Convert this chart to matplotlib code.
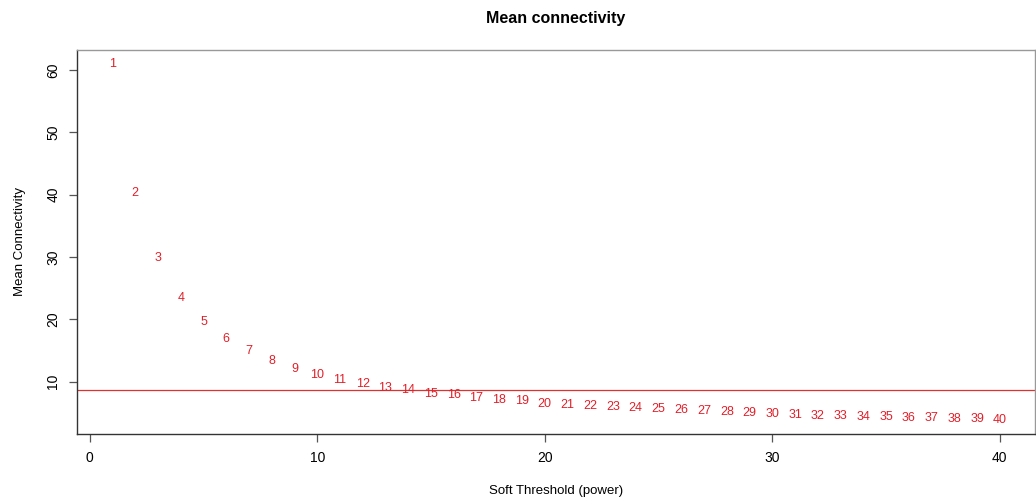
import matplotlib
matplotlib.use("Agg")
import matplotlib.pyplot as plt
import numpy as np

plt.rcParams['font.family'] = ['Liberation Sans', 'DejaVu Sans']

# soft-threshold powers and mean connectivity
powers = np.arange(1, 41)
mean_k = [60.9, 40.2, 29.8, 23.5, 19.6, 16.8, 14.9, 13.3, 12.0, 11.1,
          10.2, 9.7, 9.0, 8.6, 8.1, 7.8, 7.4, 7.1, 6.9, 6.5,
          6.3, 6.1, 5.95, 5.75, 5.6, 5.5, 5.3, 5.15, 4.95, 4.85,
          4.7, 4.55, 4.5, 4.4, 4.35, 4.25, 4.2, 4.1, 4.05, 3.9]
cutoff = 8.7
xticks = [0, 10, 20, 30, 40]
yticks = [10, 20, 30, 40, 50, 60]

fig = plt.figure(figsize=(10.36, 5.0), dpi=100)
ax = fig.add_axes([0.0743, 0.132, 0.925, 0.768])

# R-style range: data range padded 4% each side
xr = powers.max() - powers.min()
yr = max(mean_k) - min(mean_k)
ax.set_xlim(powers.min() - 0.04 * xr, powers.max() + 0.04 * xr)
ax.set_ylim(min(mean_k) - 0.04 * yr, max(mean_k) + 0.04 * yr)

for p, k in zip(powers, mean_k):
    ax.text(p, k, str(p), color='#e0202a', fontsize=9, ha='center', va='center')

ax.axhline(cutoff, color='#e03030', lw=0.9)

ax.set_xticks(xticks)
ax.set_yticks(yticks)
ax.tick_params(axis='both', direction='out', length=6, width=0.9, color='#555555',
               labelsize=10, pad=6)
for lab in ax.get_yticklabels():
    lab.set_rotation(90)
    lab.set_va('center')

for side in ['left', 'bottom']:
    ax.spines[side].set_color('#333333')
    ax.spines[side].set_linewidth(1.0)
for side in ['top', 'right']:
    ax.spines[side].set_color('#999999')
    ax.spines[side].set_linewidth(1.0)

ax.set_xlabel('Soft Threshold (power)', fontsize=9.5)
ax.xaxis.set_label_coords(0.5, -0.148)
ax.xaxis.label.set_va('center')
ax.set_ylabel('Mean Connectivity', fontsize=9.5)
ax.yaxis.set_label_coords(-0.0595, 0.5)
ax.yaxis.label.set_va('center')

ax.set_title('Mean connectivity', fontsize=11.5, fontweight='bold', y=1.083, va='center', pad=0)

fig.savefig('out.png', dpi=100)
